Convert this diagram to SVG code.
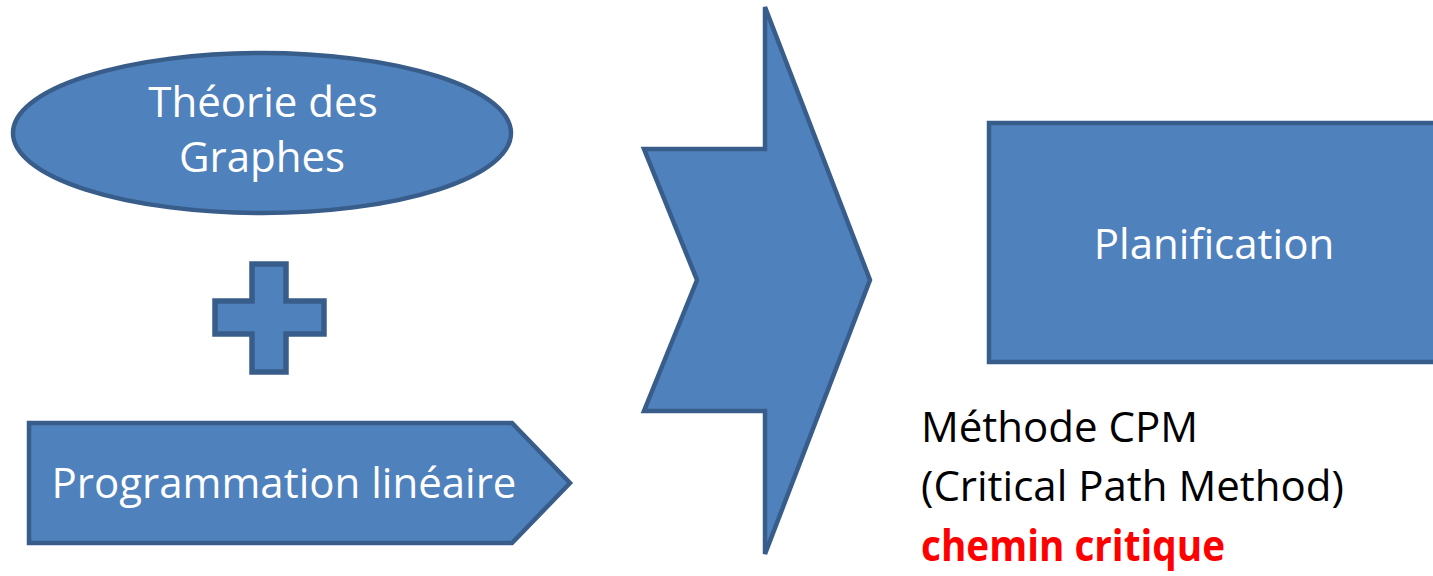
<svg xmlns="http://www.w3.org/2000/svg" width="1433" height="576" viewBox="0 0 1433 576">
<style>
.shape{fill:#4F81BD;stroke:#385D8A;stroke-width:4.5;stroke-linejoin:miter}
.lbl{font-family:"Open Sans","Liberation Sans",sans-serif;font-size:42px;fill:#FFFFFF;text-anchor:middle}
.txt{font-family:"Open Sans","Liberation Sans",sans-serif;font-size:42px;fill:#000000}
.red{font-family:"Open Sans","Liberation Sans",sans-serif;font-size:42px;font-weight:bold;fill:#FF0000}
</style>
<rect width="1433" height="576" fill="#FFFFFF"/>
<g id="theorie">
<ellipse class="shape" cx="262" cy="133" rx="249" ry="80"/>
<text class="lbl" x="263" y="117">Théorie des</text>
<text class="lbl" x="262" y="172">Graphes</text>
</g>
<g id="plus">
<path class="shape" style="stroke-width:5.5" d="M252,264 H286 V301 H324 V334 H286 V372 H252 V334 H215 V301 H252 Z"/>
</g>
<g id="programmation">
<path class="shape" d="M29,423 H512 L570,483 L512,543 H29 Z"/>
<text class="lbl" x="284" y="498">Programmation linéaire</text>
</g>
<g id="fleche">
<path class="shape" d="M765,7 L870,280 L765,554 L765,411 L644,411 L697,280 L644,149 L765,149 Z"/>
</g>
<g id="planification">
<rect class="shape" x="989" y="123" width="460" height="239"/>
<text class="lbl" x="1214" y="259">Planification</text>
</g>
<g id="cpm">
<text class="txt" x="921" y="442">Méthode CPM</text>
<text class="txt" x="921" y="501">(Critical Path Method)</text>
<text class="red" x="921" y="561" style="font-size:43px" textLength="304" lengthAdjust="spacingAndGlyphs">chemin critique</text>
</g>
<g id="connectors"/>
</svg>
